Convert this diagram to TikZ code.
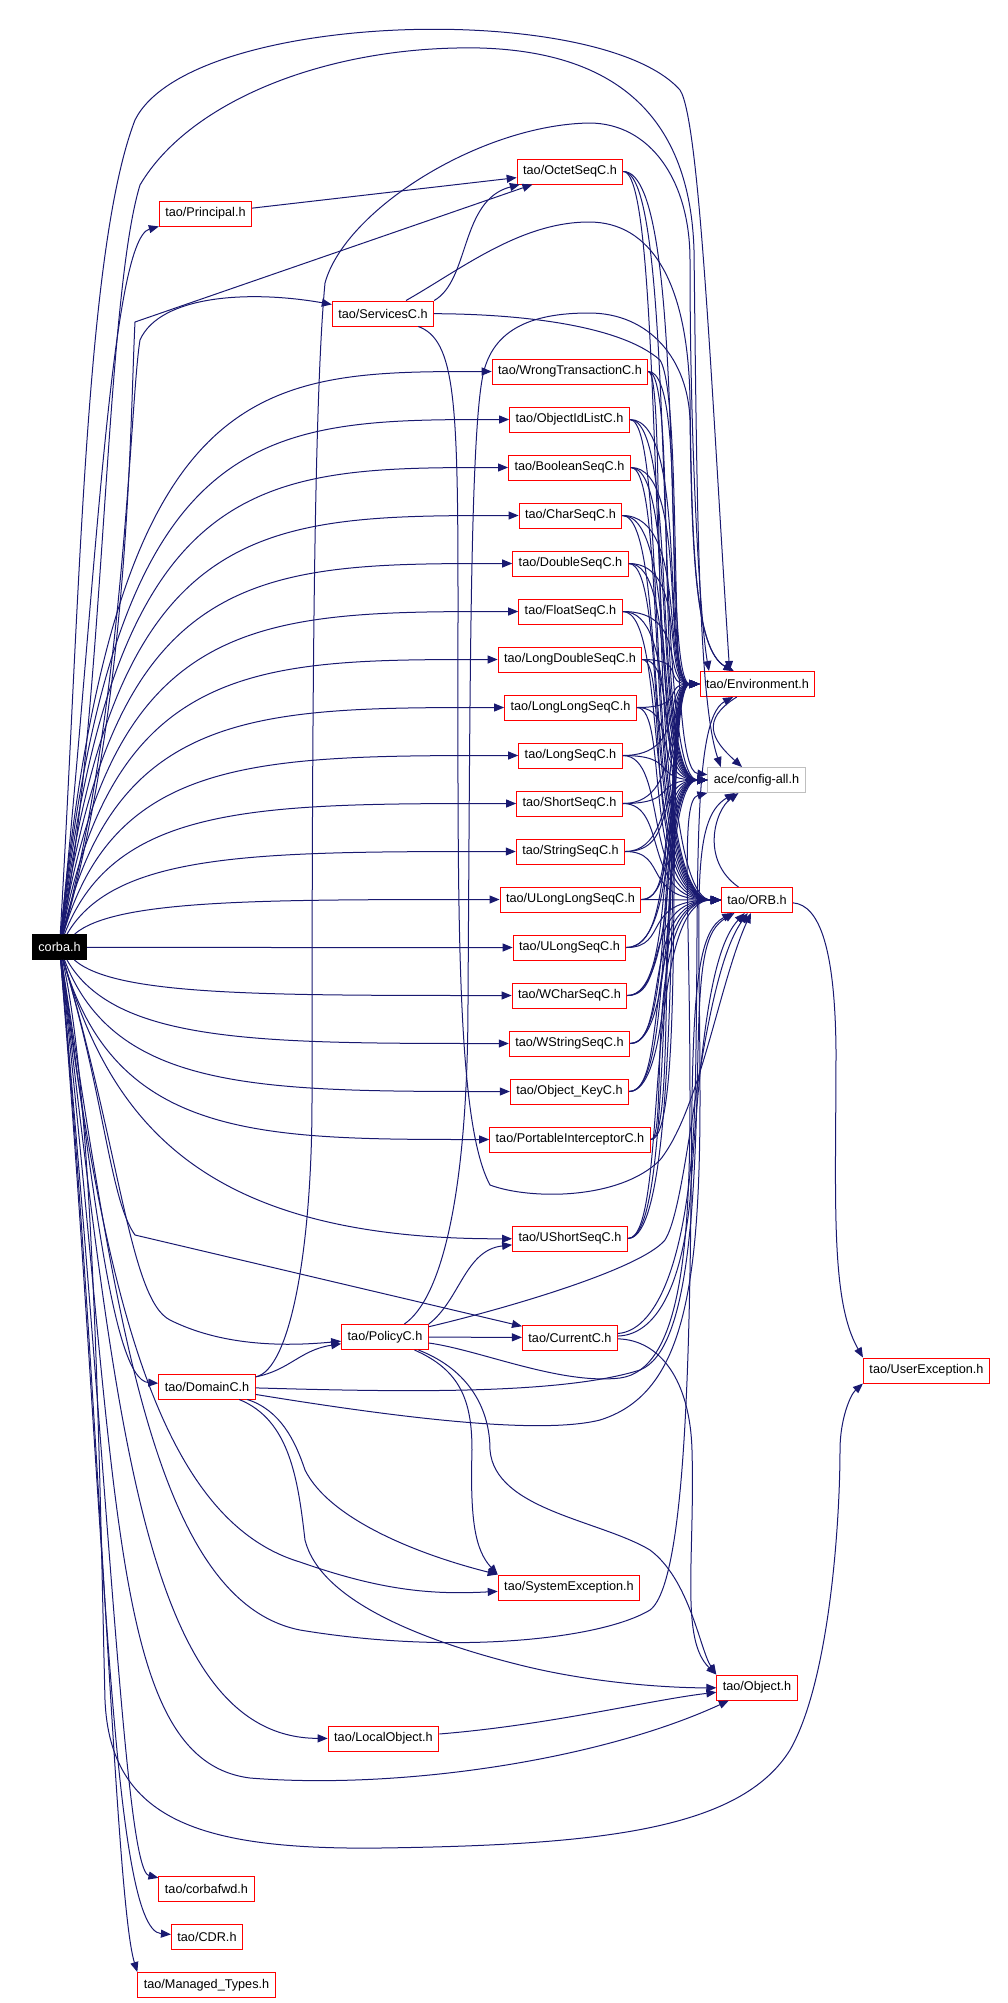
\documentclass[tikz,border=0pt]{standalone}
\usepackage{fontspec}
\setmainfont{Liberation Sans}
\usetikzlibrary{arrows.meta}
\definecolor{depblue}{RGB}{25,25,112}
\definecolor{sysgrey}{RGB}{191,191,191}
\begin{document}
\begin{tikzpicture}[x=0.75pt, y=-0.75pt,
    hdr/.style={draw=red, line width=0.75pt, fill=white, font=\fontsize{9.5}{11}\selectfont, inner xsep=4.5pt, inner ysep=0pt, minimum height=18.75pt},
    dep/.style={draw=depblue, line width=0.75pt, -{Triangle[length=7.5pt,width=6pt]}}]
    \useasboundingbox (0,0) rectangle (1007,2003);
    \node[hdr, fill=black, draw=black, text=white] (corba) at (59.5,947) {corba.h};
    \node[hdr] (principal) at (205.5,213.5) {tao/Principal.h};
    \node[hdr] (octet) at (570,171.5) {tao/OctetSeqC.h};
    \node[hdr] (services) at (383,313.5) {tao/ServicesC.h};
    \node[hdr] (wrongtx) at (570,371.5) {tao/WrongTransactionC.h};
    \node[hdr] (oidlist) at (569.5,419.5) {tao/ObjectIdListC.h};
    \node[hdr] (boolseq) at (569.5,467.5) {tao/BooleanSeqC.h};
    \node[hdr] (charseq) at (570.5,515.5) {tao/CharSeqC.h};
    \node[hdr] (doubleseq) at (570.5,563.5) {tao/DoubleSeqC.h};
    \node[hdr] (floatseq) at (570.5,611.5) {tao/FloatSeqC.h};
    \node[hdr] (ldoubleseq) at (570,659.5) {tao/LongDoubleSeqC.h};
    \node[hdr] (llongseq) at (570.5,707.5) {tao/LongLongSeqC.h};
    \node[hdr] (longseq) at (570.5,755.5) {tao/LongSeqC.h};
    \node[hdr] (shortseq) at (569.5,803.5) {tao/ShortSeqC.h};
    \node[hdr] (stringseq) at (570.5,851.5) {tao/StringSeqC.h};
    \node[hdr] (ullongseq) at (570.5,899.5) {tao/ULongLongSeqC.h};
    \node[hdr] (ulongseq) at (569.5,947.5) {tao/ULongSeqC.h};
    \node[hdr] (wcharseq) at (569.5,995.5) {tao/WCharSeqC.h};
    \node[hdr] (wstringseq) at (569.5,1043.5) {tao/WStringSeqC.h};
    \node[hdr] (objkey) at (569.5,1091.5) {tao/Object\_KeyC.h};
    \node[hdr] (pi) at (570,1139.5) {tao/PortableInterceptorC.h};
    \node[hdr] (ushortseq) at (570,1238.5) {tao/UShortSeqC.h};
    \node[hdr] (policy) at (385,1337) {tao/PolicyC.h};
    \node[hdr] (current) at (570,1337.5) {tao/CurrentC.h};
    \node[hdr] (domain) at (207,1386.5) {tao/DomainC.h};
    \node[hdr] (sysexc) at (569,1587.5) {tao/SystemException.h};
    \node[hdr] (object) at (757,1687.5) {tao/Object.h};
    \node[hdr] (localobj) at (383.5,1738.5) {tao/LocalObject.h};
    \node[hdr] (corbafwd) at (206.5,1889) {tao/corbafwd.h};
    \node[hdr] (cdr) at (207,1937) {tao/CDR.h};
    \node[hdr] (managed) at (206.5,1985) {tao/Managed\_Types.h};
    \node[hdr] (env) at (757.5,684) {tao/Environment.h};
    \node[hdr, draw=sysgrey] (config) at (756.5,780) {ace/config-all.h};
    \node[hdr] (orb) at (757,900) {tao/ORB.h};
    \node[hdr] (userexc) at (926.5,1370.5) {tao/UserException.h};
    \foreach \n/\y in {wrongtx/371.5, oidlist/419.5, boolseq/467.5, charseq/515.5, doubleseq/563.5, floatseq/611.5, ldoubleseq/659.5, llongseq/707.5, longseq/755.5, shortseq/803.5, stringseq/851.5, ullongseq/899.5, ulongseq/947.5, wcharseq/995.5, wstringseq/1043.5, objkey/1091.5, pi/1139.5}
        \draw[dep] (corba) .. controls (115,\y) and (260,\y) .. (\n);
    \foreach \n/\y in {octet/171.5, wrongtx/371.5, oidlist/419.5, boolseq/467.5, charseq/515.5, doubleseq/563.5, floatseq/611.5, ldoubleseq/659.5, llongseq/707.5, longseq/755.5, shortseq/803.5, stringseq/851.5, ullongseq/899.5, ulongseq/947.5, wcharseq/995.5, wstringseq/1043.5, objkey/1091.5, pi/1139.5, ushortseq/1238.5}{
        \draw[dep] (\n) .. controls (690,\y) and (660,684) .. (env);
        \draw[dep] (\n) .. controls (680,\y) and (650,780) .. (config);
        \draw[dep] (\n) .. controls (670,\y) and (640,900) .. (orb);
    }
    \draw[dep] (corba) .. controls (95,600) and (110,240) .. (principal);
    \draw[dep] (corba) .. controls (130,700) and (130,420) .. (135,322) -- (octet);
    \draw[dep] (corba) .. controls (125,700) and (130,400) .. (140,340) .. controls (160,295) and (250,290) .. (services);
    \draw[dep] (corba) .. controls (80,600) and (85,250) .. (135,120) .. controls (190,10) and (600,0) .. (680,90) .. controls (700,120) and (712,400) .. (env.155);
    \draw[dep] (corba) .. controls (105,700) and (105,300) .. (140,185) .. controls (190,100) and (330,45) .. (480,48) .. controls (620,52) and (690,120) .. (694,250) .. controls (697,500) and (698,700) .. (config.160);
    \draw[dep] (corba) .. controls (110,1120) and (200,1240) .. (ushortseq);
    \draw[dep] (corba) .. controls (105,1100) and (110,1200) .. (135,1235) -- (current);
    \draw[dep] (corba) .. controls (120,1150) and (130,1300) .. (170,1320) .. controls (220,1345) and (280,1347) .. (policy);
    \draw[dep] (corba) .. controls (90,1150) and (110,1380) .. (domain);
    \draw[dep] (corba) .. controls (105,1300) and (160,1520) .. (300,1562) .. controls (380,1590) and (430,1595) .. (sysexc);
    \draw[dep] (corba) .. controls (115,1300) and (150,1600) .. (300,1630) .. controls (450,1655) and (600,1640) .. (650,1610) .. controls (690,1580) and (690,1300) .. (692,1100) .. controls (694,980) and (700,930) .. (orb);
    \draw[dep] (corba) .. controls (115,1400) and (140,1738) .. (localobj);
    \draw[dep] (corba) .. controls (120,1500) and (110,1760) .. (250,1778) .. controls (400,1790) and (600,1760) .. (object);
    \draw[dep] (corba) .. controls (95,1100) and (100,1500) .. (105,1700) .. controls (110,1820) and (200,1850) .. (380,1848) .. controls (600,1845) and (740,1830) .. (790,1750) .. controls (830,1680) and (840,1520) .. (840,1450) .. controls (840,1420) and (850,1395) .. (userexc.south west);
    \draw[dep] (corba) .. controls (110,1500) and (125,1870) .. (corbafwd);
    \draw[dep] (corba) .. controls (105,1500) and (110,1930) .. (cdr);
    \draw[dep] (corba) .. controls (100,1400) and (115,1900) .. (managed.north west);
    \draw[dep] (principal) -- (octet);
    \draw[dep] (services.north east) .. controls (470,280) and (460,200) .. (octet);
    \draw[dep] (services) .. controls (460,270) and (520,222) .. (589,222) .. controls (650,222) and (688,280) .. (690,400) .. controls (692,550) and (695,650) .. (env);
    \draw[dep] (services) .. controls (520,314) and (620,325) .. (660,360) .. controls (685,400) and (665,770) .. (config);
    \draw[dep] (services) .. controls (455,340) and (458,400) .. (458,600) .. controls (458,900) and (455,1120) .. (490,1185) .. controls (530,1200) and (620,1200) .. (660,1160) .. controls (700,1110) and (720,980) .. (orb);
    \draw[dep] (policy.north east) .. controls (460,1300) and (465,1250) .. (ushortseq);
    \draw[dep] (policy) -- (current);
    \draw[dep] (policy) .. controls (440,1300) and (468,1200) .. (468,1000) .. controls (470,700) and (470,450) .. (482,380) .. controls (490,330) and (530,313) .. (589,313) .. controls (650,313) and (688,360) .. (690,420) .. controls (692,550) and (695,650) .. (env);
    \draw[dep] (policy) .. controls (500,1310) and (640,1270) .. (665,1240) .. controls (690,1200) and (700,980) .. (orb);
    \draw[dep] (policy) .. controls (480,1350) and (560,1385) .. (620,1378) .. controls (680,1370) and (690,1250) .. (690,1100) .. controls (690,900) and (680,800) .. (config);
    \draw[dep] (policy) .. controls (460,1370) and (472,1400) .. (472,1450) .. controls (470,1520) and (475,1550) .. (sysexc.north west);
    \draw[dep] (policy) .. controls (470,1370) and (490,1410) .. (490,1450) .. controls (495,1510) and (600,1520) .. (650,1550) .. controls (690,1580) and (700,1650) .. (object.north west);
    \draw[dep] (current) .. controls (650,1335) and (680,1300) .. (690,1200) .. controls (700,1050) and (710,950) .. (orb);
    \draw[dep] (current) .. controls (660,1330) and (690,1250) .. (695,1100) .. controls (700,900) and (690,720) .. (env);
    \draw[dep] (current) .. controls (660,1340) and (690,1380) .. (692,1450) .. controls (695,1560) and (680,1640) .. (object.north west);
    \draw[dep] (domain) .. controls (290,1370) and (300,1350) .. (policy);
    \draw[dep] (domain) .. controls (290,1370) and (312,1250) .. (312,1100) .. controls (312,700) and (314,400) .. (325,283) .. controls (345,210) and (480,125) .. (589,123) .. controls (650,123) and (690,180) .. (690,260) .. controls (690,450) and (700,620) .. (env.165);
    \draw[dep] (domain) .. controls (400,1392) and (560,1395) .. (640,1370) .. controls (690,1350) and (695,1200) .. (698,1050) .. controls (700,960) and (705,930) .. (orb);
    \draw[dep] (domain) .. controls (400,1418) and (540,1435) .. (600,1420) .. controls (680,1395) and (700,1300) .. (700,1100) .. controls (700,900) and (690,820) .. (config);
    \draw[dep] (domain) .. controls (280,1410) and (295,1440) .. (305,1470) .. controls (330,1520) and (420,1555) .. (sysexc.north west);
    \draw[dep] (domain) .. controls (290,1420) and (298,1480) .. (305,1540) .. controls (320,1600) and (420,1640) .. (520,1665) .. controls (600,1685) and (680,1688) .. (object);
    \draw[dep] (localobj) .. controls (550,1725) and (650,1700) .. (object);
    \draw[dep] (env) .. controls (700,720) and (712,740) .. (config);
    \draw[dep] (orb) .. controls (700,860) and (715,810) .. (config);
    \draw[dep] (orb) .. controls (820,905) and (835,950) .. (836,1050) .. controls (836,1200) and (830,1300) .. (userexc.north west);
\end{tikzpicture}
\end{document}
